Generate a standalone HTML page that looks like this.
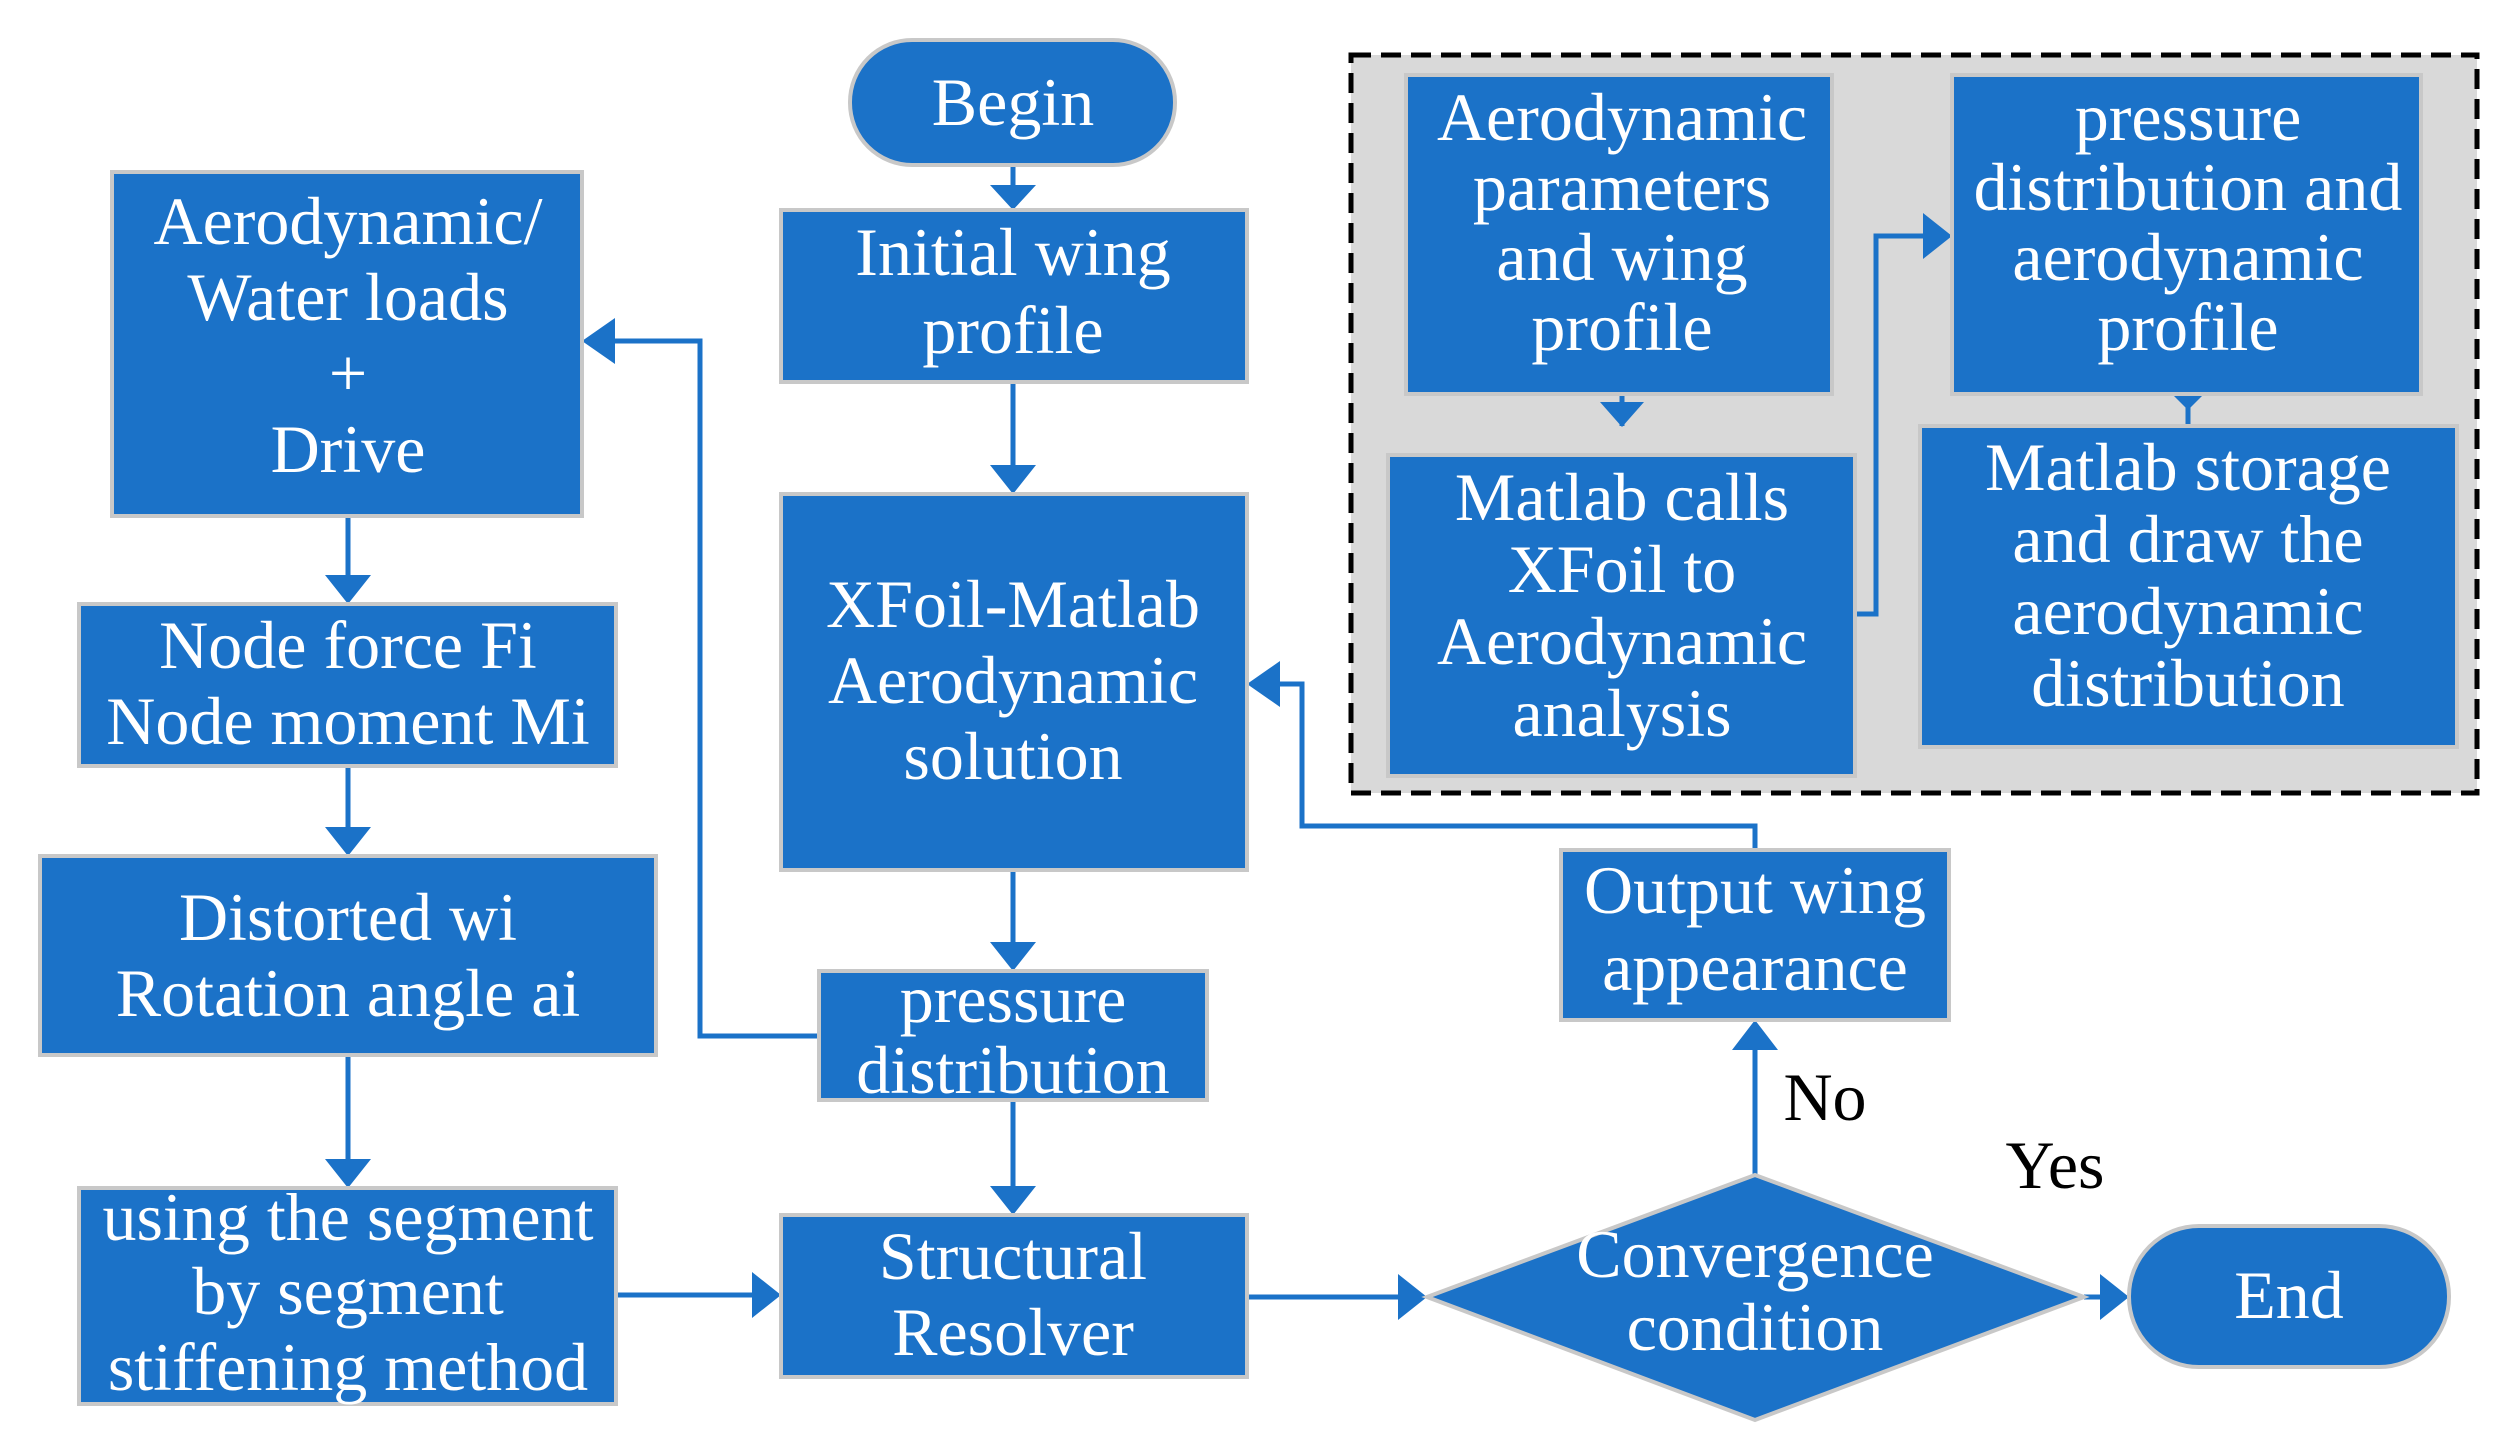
<!DOCTYPE html>
<html><head><meta charset="utf-8"><style>
html,body{margin:0;padding:0;background:#fff}
svg{display:block}
text{font-family:"Liberation Serif",serif;fill:#fff;font-size:68px;text-anchor:middle}
.b{fill:#1b72c8;stroke:#c8c8c8;stroke-width:4}
.l{stroke:#1b72c8;stroke-width:5;fill:none}
.a{fill:#1b72c8}
</style></head><body>
<svg width="2501" height="1445" viewBox="0 0 2501 1445" xmlns="http://www.w3.org/2000/svg">
<rect x="1351" y="55" width="1126" height="738" fill="#d9d9d9" stroke="#000" stroke-width="5" stroke-dasharray="20,10"/>
<!-- connectors -->
<path class="l" d="M1013 165V185M1013 382V465M1013 870V942M1013 1100V1186M348 516V575M348 766V827M348 1055V1159M616 1295H752M1247 1297H1398M2084 1297H2100M1755 1175V1050M1755 850V826H1302V684H1280M819 1036H700V341H615M1622 394V426M1855 614H1876V236H1923M2188 394V426"/>
<path class="a" d="M990 185h46l-23 25zM990 465h46l-23 29zM990 942h46l-23 29zM990 1186h46l-23 29zM325 575h46l-23 29zM325 827h46l-23 29zM325 1159h46l-23 29zM752 1272v46l29-23zM1398 1274v46l29-23zM2100 1274v46l29-23zM1732 1050h46l-23-30zM1280 661v46l-33-23zM615 318v46l-33-23zM1600 402h44l-22 25zM1923 213v46l29-23zM2172 394h32l-16 16z"/>
<!-- boxes -->
<rect class="b" x="850" y="40" width="325" height="125" rx="62"/>
<text x="1013" y="125">Begin</text>
<rect class="b" x="781" y="210" width="466" height="172"/>
<text x="1013" y="275">Initial wing</text><text x="1013" y="353">profile</text>
<rect class="b" x="781" y="494" width="466" height="376"/>
<text x="1013" y="627">XFoil-Matlab</text><text x="1013" y="703">Aerodynamic</text><text x="1013" y="779">solution</text>
<rect class="b" x="819" y="971" width="388" height="129"/>
<text x="1013" y="1022">pressure</text><text x="1013" y="1093">distribution</text>
<rect class="b" x="781" y="1215" width="466" height="162"/>
<text x="1013" y="1279">Structural</text><text x="1013" y="1355">Resolver</text>
<rect class="b" x="112" y="172" width="470" height="344"/>
<text x="348" y="244">Aerodynamic/</text><text x="348" y="320">Water loads</text><text x="348" y="396">+</text><text x="348" y="472">Drive</text>
<rect class="b" x="79" y="604" width="537" height="162"/>
<text x="348" y="668">Node force Fi</text><text x="348" y="744">Node moment Mi</text>
<rect class="b" x="40" y="856" width="616" height="199"/>
<text x="348" y="940">Distorted wi</text><text x="348" y="1016">Rotation angle ai</text>
<rect class="b" x="79" y="1188" width="537" height="216"/>
<text x="348" y="1240">using the segment</text><text x="348" y="1314">by segment</text><text x="348" y="1390">stiffening method</text>
<rect class="b" x="1406" y="75" width="426" height="319"/>
<text x="1622" y="140">Aerodynamic</text><text x="1622" y="210">parameters</text><text x="1622" y="280">and wing</text><text x="1622" y="350">profile</text>
<rect class="b" x="1388" y="455" width="467" height="321"/>
<text x="1622" y="520">Matlab calls</text><text x="1622" y="592">XFoil to</text><text x="1622" y="664">Aerodynamic</text><text x="1622" y="736">analysis</text>
<rect class="b" x="1952" y="75" width="469" height="319"/>
<text x="2188" y="140">pressure</text><text x="2188" y="210">distribution and</text><text x="2188" y="280">aerodynamic</text><text x="2188" y="350">profile</text>
<rect class="b" x="1920" y="426" width="537" height="321"/>
<text x="2188" y="490">Matlab storage</text><text x="2188" y="562">and draw the</text><text x="2188" y="634">aerodynamic</text><text x="2188" y="706">distribution</text>
<rect class="b" x="1561" y="850" width="388" height="170"/>
<text x="1755" y="913">Output wing</text><text x="1755" y="990">appearance</text>
<polygon class="b" points="1427,1297 1755,1175 2084,1297 1755,1420"/>
<text x="1755" y="1277">Convergence</text><text x="1755" y="1350">condition</text>
<rect class="b" x="2129" y="1226" width="320" height="141" rx="70"/>
<text x="2289" y="1318">End</text>
<text x="1825" y="1120" style="fill:#000">No</text>
<text x="2055" y="1188" style="fill:#000">Yes</text>
</svg>
</body></html>
